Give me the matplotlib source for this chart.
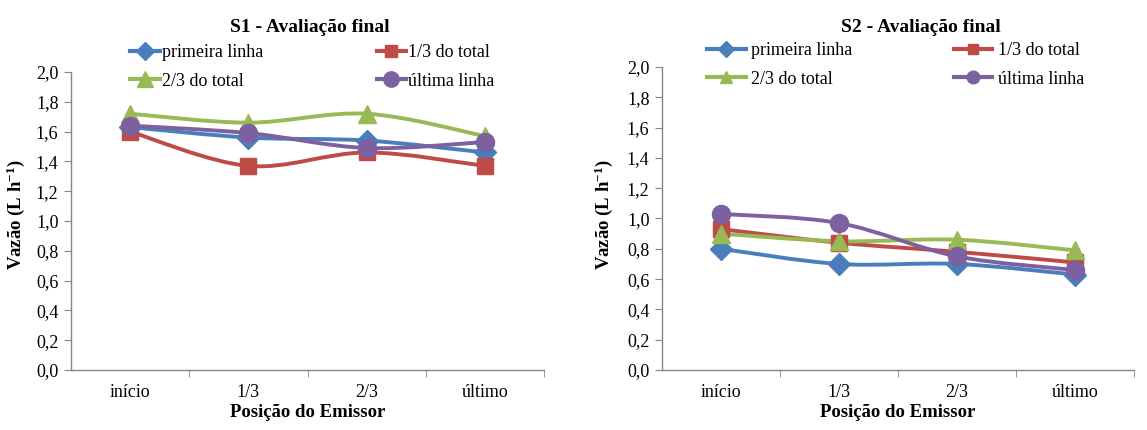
import matplotlib
matplotlib.use("Agg")
import matplotlib.pyplot as plt
from matplotlib.path import Path
from matplotlib.patches import PathPatch
from matplotlib.lines import Line2D
import numpy as np

plt.rcParams['font.family'] = 'serif'
plt.rcParams['font.serif'] = ['Liberation Serif', 'DejaVu Serif']
plt.rcParams['mathtext.fontset'] = 'custom'
plt.rcParams['mathtext.rm'] = 'Liberation Serif'
plt.rcParams['mathtext.bf'] = 'Liberation Serif:bold'
plt.rcParams['mathtext.it'] = 'Liberation Serif:italic'

categories = ["início", "1/3", "2/3", "último"]
series_names = ["primeira linha", "1/3 do total", "2/3 do total", "última linha"]

s1_primeira = [1.63, 1.56, 1.54, 1.46]
s1_um_terco = [1.60, 1.37, 1.46, 1.37]
s1_dois_tercos = [1.72, 1.66, 1.72, 1.57]
s1_ultima = [1.64, 1.59, 1.49, 1.53]

s2_primeira = [0.80, 0.70, 0.70, 0.63]
s2_um_terco = [0.93, 0.84, 0.78, 0.71]
s2_dois_tercos = [0.90, 0.85, 0.86, 0.79]
s2_ultima = [1.03, 0.97, 0.75, 0.66]

yticks = [0.0, 0.2, 0.4, 0.6, 0.8, 1.0, 1.2, 1.4, 1.6, 1.8, 2.0]

colors = ["#4A7EBB", "#BE4B48", "#98B954", "#7D60A0"]
markers = ["D", "s", "^", "o"]
msizes = [11, 11, 13, 13]

W, H = 1147, 430
fig = plt.figure(figsize=(W / 100, H / 100), dpi=100)


def smooth_path(x, y):
    n = len(x)
    pts = np.column_stack([x, y])
    verts = [pts[0]]
    codes = [Path.MOVETO]
    for i in range(n - 1):
        p0 = pts[i - 1] if i > 0 else pts[i]
        p1 = pts[i]
        p2 = pts[i + 1]
        p3 = pts[i + 2] if i + 2 < n else pts[i + 1]
        c1 = p1 + (p2 - p0) / 6.0
        c2 = p2 - (p3 - p1) / 6.0
        verts += [c1, c2, p2]
        codes += [Path.CURVE4] * 3
    return Path(verts, codes)


def draw_panel(rect, title, title_xy, data, legend_xy, ylab_x, hl, htp, csp, lms):
    ax = fig.add_axes(rect)
    x = np.arange(len(categories))
    for vals, c, m, ms in zip(data, colors, markers, msizes):
        patch = PathPatch(smooth_path(x, np.array(vals)), facecolor='none',
                          edgecolor=c, lw=2.8, zorder=2, capstyle='round')
        ax.add_patch(patch)
        ax.plot(x, vals, linestyle='none', marker=m, ms=ms, color=c,
                markeredgecolor=c, zorder=3, clip_on=False)
    ax.set_xlim(-0.5, 3.5)
    ax.set_ylim(0, 2.0)
    ax.set_yticks(yticks)
    ax.set_yticklabels([f"{v:.1f}".replace('.', ',') for v in yticks], fontsize=13)
    ax.set_xticks(x)
    ax.set_xticklabels(categories, fontsize=13)
    ax.set_xticks([0.5, 1.5, 2.5, 3.5], minor=True)
    ax.tick_params(axis='x', which='major', length=0, pad=10)
    ax.tick_params(axis='x', which='minor', length=5, color='#868686', direction='out')
    ax.tick_params(axis='y', length=5, color='#868686', direction='out', pad=4)
    for s in ['top', 'right']:
        ax.spines[s].set_visible(False)
    for s in ['left', 'bottom']:
        ax.spines[s].set_color('#868686')
        ax.spines[s].set_linewidth(1.0)
    ax.set_xlabel("Posição do Emissor", fontsize=13.5, fontweight='bold', labelpad=2)
    ax.set_ylabel(r"Vazão (L h$^{\mathbf{-1}}$)", fontsize=13.5, fontweight='bold')
    ax.yaxis.set_label_coords(ylab_x / W, 0.5, transform=fig.transFigure)
    fig.text(title_xy[0] / W, 1 - title_xy[1] / H, title, fontsize=14,
             fontweight='bold', ha='center', va='center')
    handles = [Line2D([0], [0], color=c, lw=3, marker=m, ms=ms * lms)
               for c, m, ms in zip(colors, markers, msizes)]
    order = [0, 2, 1, 3]
    ax.legend([handles[i] for i in order], [series_names[i] for i in order],
              ncol=2, loc='center left',
              bbox_to_anchor=(legend_xy[0] / W, 1 - legend_xy[1] / H),
              bbox_transform=fig.transFigure, frameon=False, fontsize=13,
              handlelength=hl, handletextpad=htp, columnspacing=csp,
              labelspacing=0.62, borderpad=0, borderaxespad=0)
    return ax


draw_panel([71 / W, 60 / H, 473 / W, 298 / H], "S1 - Avaliação final", (310, 27),
           [s1_primeira, s1_um_terco, s1_dois_tercos, s1_ultima], (130, 67),
           27, 1.65, 0.1, 6.3, 0.85)
draw_panel([662 / W, 60 / H, 472 / W, 303 / H], "S2 - Avaliação final", (921, 28),
           [s2_primeira, s2_um_terco, s2_dois_tercos, s2_ultima], (707, 65),
           615, 2.15, 0.3, 5.6, 0.7)

fig.savefig("out.png", dpi=100)
